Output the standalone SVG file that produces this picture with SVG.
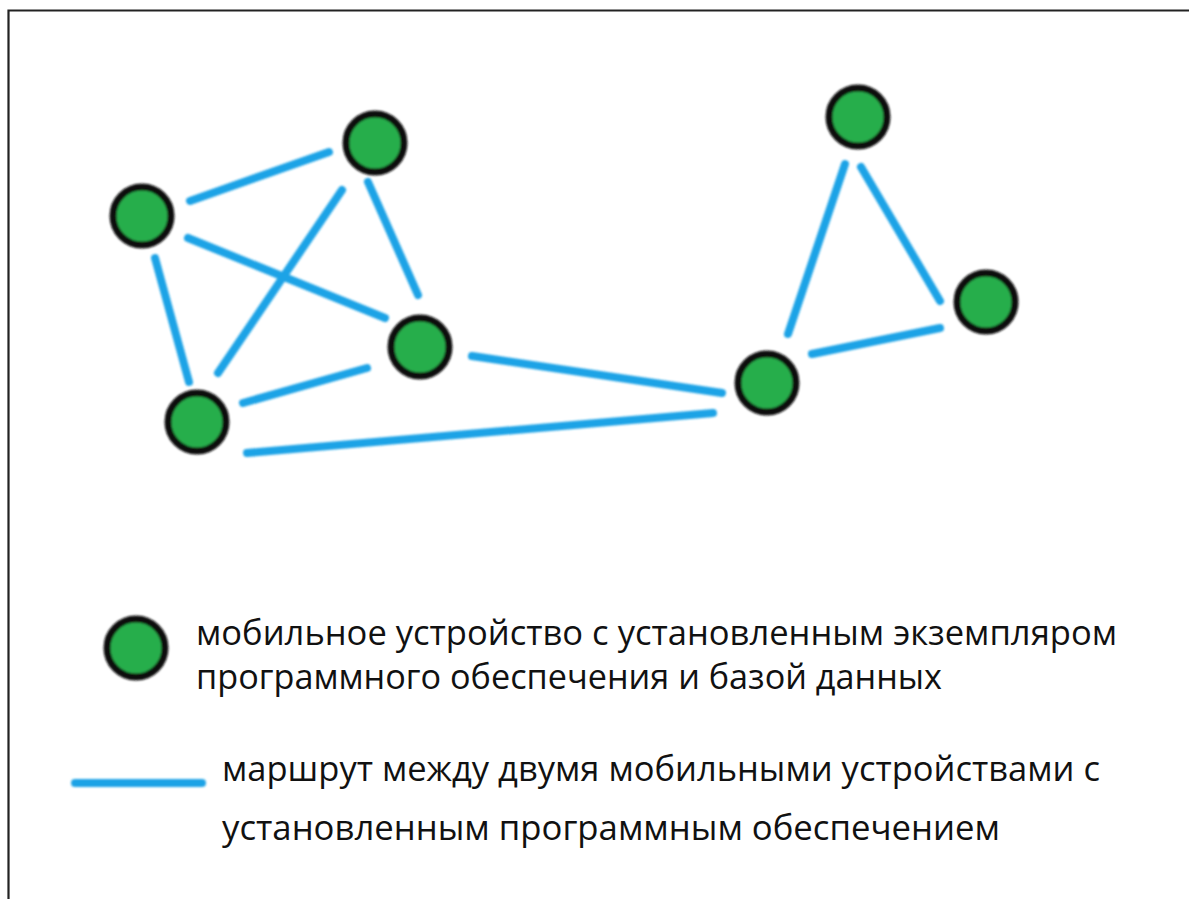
<svg xmlns="http://www.w3.org/2000/svg" width="1189" height="899" viewBox="0 0 1189 899">
  <style>
    .frame { fill: none; stroke: #222; stroke-width: 2.2; }
    .route { stroke: #1ea3e6; stroke-width: 8; stroke-linecap: round; fill: none; }
    .device { fill: #27ae4b; stroke: #111; stroke-width: 7; }
    .label { font-family: "Open Sans", "Noto Sans", "Liberation Sans", sans-serif; font-size: 34px; fill: #111; }
  </style>
  <defs>
    <filter id="soft" filterUnits="userSpaceOnUse" x="0" y="0" width="1189" height="899">
      <feGaussianBlur stdDeviation="1.1"/>
    </filter>
  </defs>
  <rect width="1189" height="899" fill="#fff"/>
  <!-- frame: top and left edges only -->
  <path class="frame" d="M8.5 899 V10.5 H1189"/>

  <!-- routes between devices -->
  <g id="connectors" filter="url(#soft)">
    <line class="route" x1="190" y1="201" x2="329" y2="152"/>
    <line class="route" x1="188" y1="238" x2="385" y2="318"/>
    <line class="route" x1="155" y1="258" x2="189" y2="382"/>
    <line class="route" x1="342" y1="190" x2="218" y2="373"/>
    <line class="route" x1="368" y1="182" x2="418" y2="295"/>
    <line class="route" x1="243" y1="403" x2="367" y2="368"/>
    <line class="route" x1="472" y1="356" x2="722" y2="393"/>
    <line class="route" x1="247" y1="453" x2="713" y2="413"/>
    <line class="route" x1="788" y1="334" x2="845" y2="164"/>
    <line class="route" x1="861" y1="167" x2="940" y2="301"/>
    <line class="route" x1="812" y1="354" x2="940" y2="328"/>
  </g>

  <!-- mobile devices -->
  <g id="node-a" filter="url(#soft)"><circle class="device" cx="142" cy="216" r="29"/></g>
  <g id="node-b" filter="url(#soft)"><circle class="device" cx="375" cy="143" r="29"/></g>
  <g id="node-c" filter="url(#soft)"><circle class="device" cx="420" cy="347" r="29"/></g>
  <g id="node-d" filter="url(#soft)"><circle class="device" cx="197" cy="422" r="29"/></g>
  <g id="node-e" filter="url(#soft)"><circle class="device" cx="767" cy="383" r="29"/></g>
  <g id="node-f" filter="url(#soft)"><circle class="device" cx="858" cy="117" r="29"/></g>
  <g id="node-g" filter="url(#soft)"><circle class="device" cx="986" cy="302" r="29"/></g>

  <!-- legend -->
  <g id="legend-device">
    <circle class="device" cx="136" cy="648" r="29" filter="url(#soft)"/>
    <text class="label" x="196" y="645" textLength="921" lengthAdjust="spacingAndGlyphs">мобильное устройство с установленным экземпляром</text>
    <text class="label" x="196" y="689" textLength="746" lengthAdjust="spacingAndGlyphs">программного обеспечения и базой данных</text>
  </g>
  <g id="legend-route">
    <line class="route" x1="75" y1="783" x2="202" y2="783" filter="url(#soft)"/>
    <text class="label" x="222" y="781" textLength="878" lengthAdjust="spacingAndGlyphs">маршрут между двумя мобильными устройствами с</text>
    <text class="label" x="222" y="840" textLength="778" lengthAdjust="spacingAndGlyphs">установленным программным обеспечением</text>
  </g>
</svg>
